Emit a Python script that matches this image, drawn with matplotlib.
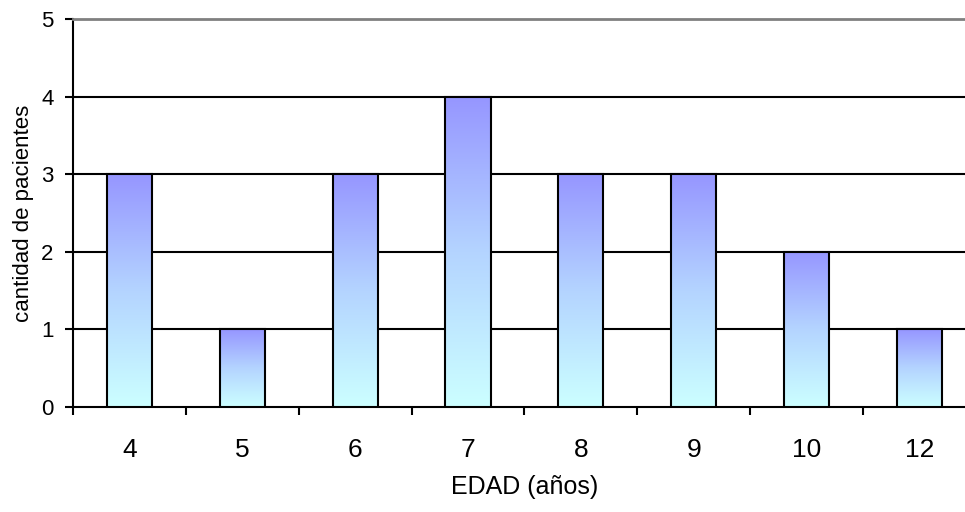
import numpy as np
import matplotlib.pyplot as plt
from matplotlib.colors import LinearSegmentedColormap

plt.rcParams['font.family'] = ['Liberation Sans', 'DejaVu Sans']

# Patients per age
edades = ['4', '5', '6', '7', '8', '9', '10', '12']
pacientes = [3, 1, 3, 4, 3, 3, 2, 1]

fig = plt.figure(figsize=(9.65, 5.12), dpi=100)
ax = fig.add_axes([0.0756, 0.205, 0.9358, 0.758])

# vertical gradient: light cyan at the base, lavender blue at the top
grad = LinearSegmentedColormap.from_list('g', ['#ccffff', '#b4d4ff', '#9696ff'])
ramp = np.linspace(0, 1, 256).reshape(-1, 1)

x = np.arange(len(edades))
width = 0.4
for xi, h in zip(x, pacientes):
    ax.imshow(ramp, cmap=grad, origin='lower', aspect='auto',
              extent=(xi - width / 2, xi + width / 2, 0, h), zorder=3)
bars = ax.bar(x, pacientes, width=width, facecolor='none',
              edgecolor='black', linewidth=1.5, zorder=4)

ax.set_xlim(-0.5, len(edades) - 0.5)
ax.set_ylim(0, 5)

# horizontal gridlines
for yv in range(1, 5):
    ax.axhline(yv, color='black', lw=1.5, zorder=1)

ax.spines['top'].set_color('#808080')
ax.spines['top'].set_linewidth(2)
ax.spines['right'].set_visible(False)
ax.spines['left'].set_linewidth(1.5)
ax.spines['bottom'].set_linewidth(1.5)

ax.set_yticks(range(0, 6))
ax.tick_params(axis='y', length=6, width=1.5, labelsize=16, pad=8)

# tick marks between categories, labels centred under the bars
ax.set_xticks(np.arange(-0.5, len(edades)), labels=[''] * (len(edades) + 1))
ax.set_xticks(x, labels=edades, minor=True)
ax.tick_params(axis='x', which='major', length=6, width=1.5)
ax.tick_params(axis='x', which='minor', length=0, labelsize=19, pad=22)

ax.set_xlabel('EDAD (años)', fontsize=18, labelpad=10)
ax.set_ylabel('cantidad de pacientes', fontsize=16)
ax.yaxis.set_label_coords(-0.043, 0.5)

fig.savefig('out.png', dpi=100)
